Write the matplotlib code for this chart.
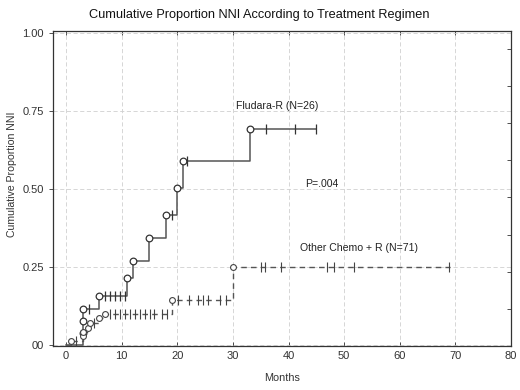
import numpy as np
import matplotlib
matplotlib.use("Agg")
import matplotlib.pyplot as plt

plt.rcParams['font.family'] = ['Liberation Sans', 'DejaVu Sans']

# Fludara-R (N=26): event times / cumulative proportion after each event
flu_t = [3, 3, 3, 6, 10.9, 12, 15, 18, 20, 21, 33]
flu_p = [0.038, 0.077, 0.115, 0.158, 0.214, 0.270, 0.344, 0.417, 0.502, 0.588, 0.692]
flu_cens_t = [4.1, 7.0, 7.9, 8.8, 9.7, 10.6, 19.1, 21.8, 36.0, 41.2, 45.0]
flu_end = 45

# Other Chemo + R (N=71)
oth_t = [1, 3, 3, 4, 4.3, 6, 7, 19, 30]
oth_p = [0.014, 0.028, 0.042, 0.056, 0.070, 0.085, 0.099, 0.144, 0.251]
oth_cens_t = [1.9, 5.1, 7.9, 8.8, 9.7, 10.6, 11.5, 12.4, 13.3, 14.2, 15.1, 15.8, 17.2, 18.1,
              20.1, 22.1, 23.7, 24.6, 25.5, 27.7, 28.8,
              35.1, 35.7, 38.7, 47.0, 48.2, 51.8, 68.9]
oth_end = 69

xticks = [0, 10, 20, 30, 40, 50, 60, 70, 80]
yticks = [0, 0.25, 0.5, 0.75, 1.0]
ytick_labels = ['00', '0.25', '0.50', '0.75', '1.00']


def km_curve(times, probs, end):
    xs = [0] + list(times) + [end]
    ys = [0] + list(probs) + [probs[-1]]
    return xs, ys


def value_at(t, times, probs):
    v = 0
    for ti, pi in zip(times, probs):
        if ti <= t:
            v = pi
    return v


fig = plt.figure(figsize=(5.2, 3.9), dpi=100)
ax = fig.add_axes([0.102, 0.113, 0.881, 0.808])

col = '#555555'

xs, ys = km_curve(flu_t, flu_p, flu_end)
ax.step(xs, ys, where='post', color=col, lw=1.1, zorder=3)
ax.plot(flu_t, flu_p, 'o', ms=4.8, mfc='white', mec='#333333', mew=0.9, zorder=4)
ax.plot(flu_cens_t, [value_at(t, flu_t, flu_p) for t in flu_cens_t], '|',
        ms=6.5, color='#333333', mew=0.9, zorder=4)

xs, ys = km_curve(oth_t, oth_p, oth_end)
ax.step(xs, ys, where='post', color=col, lw=1.0, ls=(0, (4, 3)), zorder=3)
ax.plot(oth_t, oth_p, 'o', ms=4.2, mfc='white', mec='#444444', mew=0.8, zorder=4)
ax.plot(oth_cens_t, [value_at(t, oth_t, oth_p) for t in oth_cens_t], '|',
        ms=6.5, color='#444444', mew=0.8, zorder=4)

ax.set_xlim(-2.3, 80)
ax.set_ylim(-0.003, 1.006)
ax.set_xticks(xticks)
ax.set_yticks(yticks)
ax.set_yticklabels(ytick_labels)
ax.grid(True, color='#d0d0d0', ls=(0, (5, 3)), lw=0.6)
ax.tick_params(axis='both', labelsize=8, colors='#333333', length=3, width=0.6)
ax.tick_params(axis='x', direction='in', top=True)
ax.tick_params(axis='y', direction='out')
for s in ax.spines.values():
    s.set_color('#333333')
    s.set_linewidth(0.9)

# small ticks on the right spine
ax2 = ax.twinx()
ax2.set_ylim(ax.get_ylim())
ax2.set_yticks([0.115, 0.234, 0.353, 0.474, 0.593, 0.712, 0.830, 0.949])
ax2.set_yticklabels([])
ax2.tick_params(axis='y', direction='in', length=3, width=0.6, colors='#333333')
for s in ax2.spines.values():
    s.set_visible(False)

ax.text(38.0, 0.764, 'Fludara-R (N=26)', fontsize=7.6, ha='center', va='center', color='#222222')
ax.text(43.0, 0.516, 'P=.004', fontsize=7.6, ha='left', va='center', color='#222222')
ax.text(42.0, 0.31, 'Other Chemo + R (N=71)', fontsize=7.6, ha='left', va='center', color='#222222')

ax.set_xlabel('Months', fontsize=7.8, color='#333333', labelpad=9)
fig.text(12 / 520, 1 - 174 / 390, 'Cumulative Proportion NNI', rotation=90,
         fontsize=7.6, color='#333333', ha='center', va='center')
fig.suptitle('Cumulative Proportion NNI According to Treatment Regimen',
             x=0.499, y=0.962, va='center', fontsize=9.2, color='#111111')

fig.savefig('out.png', dpi=100)
